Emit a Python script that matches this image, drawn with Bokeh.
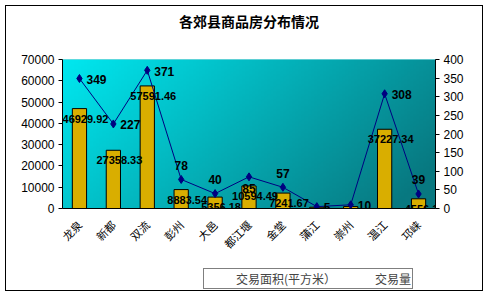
import numpy as np
from bokeh.plotting import figure
from bokeh.layouts import column
from bokeh.models import (Range1d, LinearAxis, FixedTicker, Legend, LegendItem,
                          ColumnDataSource, FactorRange, Title)
from bokeh.core.properties import value
from bokeh.embed import file_html
from bokeh.resources import INLINE

categories = ["龙泉", "新都", "双流", "彭州", "大邑", "都江堰", "金堂", "蒲江", "崇州", "温江", "邛崃"]
area = [46929.92, 27358.33, 57591.46, 8883.54, 5356.18, 10594.49, 7241.67, 588.67, 906.98, 37227.34, 4556.12]
count = [349, 227, 371, 78, 40, 85, 57, 5, 10, 308, 39]
left_ticks = [0, 10000, 20000, 30000, 40000, 50000, 60000, 70000]
right_ticks = [0, 50, 100, 150, 200, 250, 300, 350, 400]

title_text = "各郊县商品房分布情况"
bar_label = "交易面积(平方米）"
line_label = "交易量"

# placement of the count labels (style only)
count_label_side = ["right", "right", "right", "above", "above", "below",
                    "above", "right", "right", "right", "above"]

CJK = "Noto Sans CJK SC"
LAT = "Liberation Sans"
BAR_FILL = "#d9ae00"
LINE_COL = "#000080"

def side_offsets(side):
    if side == "right":
        return 7, 1, "left"
    if side == "above":
        return 0, -14, "center"
    return 0, 12, "center"

offs = [side_offsets(s) for s in count_label_side]

src = ColumnDataSource(dict(
    cat=categories, area=area, count=count,
    area_txt=["%.2f" % v for v in area],
    count_txt=[str(v) for v in count],
    cx=[o[0] for o in offs], cy=[o[1] for o in offs], ca=[o[2] for o in offs],
))

p = figure(width=476, height=262, x_range=FactorRange(*categories),
           y_range=Range1d(left_ticks[0], left_ticks[-1]),
           output_backend="svg", toolbar_location=None, title=None,
           min_border_left=56, min_border_right=47, min_border_top=53, min_border_bottom=60)
p.extra_y_ranges = {"right": Range1d(right_ticks[0], right_ticks[-1])}

# spacer between frame and title, then the title itself
p.add_layout(Title(text=" ", text_font_size="9px", standoff=15), "above")
p.add_layout(Title(text=title_text, text_font=CJK, text_font_size="14px",
                   align="center", text_font_style="bold", text_color="black",
                   standoff=4), "above")

p.outline_line_color = None
p.grid.grid_line_color = None
p.background_fill_color = "#00b0b8"
p.border_fill_color = "white"

# gradient background of plot area (style only)
H, W = 60, 120
xs = np.linspace(0, 1, W)[None, :]
ys = np.linspace(0, 1, H)[:, None]   # 0 bottom, 1 top
t = np.clip(0.78 * xs + 0.30 * (1 - ys), 0, 1)
c0 = np.array([0, 232, 240]); c1 = np.array([8, 120, 128])
rgb = c0[None, None, :] * (1 - t[..., None]) + c1[None, None, :] * t[..., None]
img = np.zeros((H, W), dtype=np.uint32)
view = img.view(dtype=np.uint8).reshape((H, W, 4))
view[..., 0] = rgb[..., 0].astype(np.uint8)
view[..., 1] = rgb[..., 1].astype(np.uint8)
view[..., 2] = rgb[..., 2].astype(np.uint8)
view[..., 3] = 255
p.image_rgba(image=[img], x=0, y=left_ticks[0], dw=len(categories), dh=left_ticks[-1] - left_ticks[0])

p.vbar(x="cat", top="area", width=0.42, source=src,
       fill_color=BAR_FILL, line_color="black", line_width=1)
p.line(x="cat", y="count", source=src, y_range_name="right",
       line_color=LINE_COL, line_width=1)
p.scatter(x="cat", y="count", source=src, y_range_name="right",
          marker="diamond", size=8, fill_color=LINE_COL, line_color=LINE_COL)

p.text(x="cat", y="area", text="area_txt", source=src, text_align="center",
       text_baseline="middle", x_offset=6, y_offset=10, text_font=value(LAT),
       text_font_size="11px", text_font_style="bold", text_color="black")
p.text(x="cat", y="count", text="count_txt", source=src, y_range_name="right",
       text_align="ca", text_baseline="middle", x_offset="cx", y_offset="cy",
       text_font=value(LAT), text_font_size="12px", text_font_style="bold",
       text_color="black")

# axes
ax = p.yaxis[0]
ax.ticker = FixedTicker(ticks=left_ticks)
ra = LinearAxis(y_range_name="right", ticker=FixedTicker(ticks=right_ticks))
p.add_layout(ra, "right")
for a in [ax, ra]:
    a.major_label_text_font = LAT
    a.major_label_text_font_size = "12px"
    a.major_label_text_color = "black"
    a.axis_line_color = "black"
    a.major_tick_line_color = "black"
    a.major_tick_out = 4
    a.major_tick_in = 0
    a.minor_tick_line_color = None
    a.major_label_standoff = 4

xa = p.xaxis[0]
xa.major_label_orientation = np.pi / 4
xa.major_label_text_font = CJK
xa.major_label_text_font_size = "11px"
xa.major_label_text_color = "black"
xa.major_tick_line_color = None
xa.axis_line_color = "black"
xa.major_label_standoff = 8

# legend strip below the chart (its own small canvas)
lg = figure(width=476, height=22, output_backend="svg", toolbar_location=None,
            x_range=Range1d(0, 1), y_range=Range1d(0, 1),
            x_axis_type=None, y_axis_type=None, min_border=0)
lg.outline_line_color = None
lg.grid.grid_line_color = None
lg.background_fill_color = "white"
lg.border_fill_color = "white"
empty = ColumnDataSource(dict(x=[], y=[]))
r_bar = lg.vbar(x="x", top="y", width=0.1, source=empty,
                fill_color=BAR_FILL, line_color="black")
r_line = lg.line(x="x", y="y", source=empty, line_color=LINE_COL, line_width=1)
r_pt = lg.scatter(x="x", y="y", source=empty, marker="diamond", size=8,
                  fill_color=LINE_COL, line_color=LINE_COL)

legend = Legend(items=[LegendItem(label=bar_label, renderers=[r_bar]),
                       LegendItem(label=line_label, renderers=[r_line, r_pt])],
                orientation="horizontal", location=(141, 1),
                label_text_font=CJK, label_text_font_size="12px",
                border_line_color="black", border_line_width=1,
                glyph_width=28, glyph_height=8, label_standoff=3, spacing=8,
                padding=1, margin=0, background_fill_alpha=1)
lg.add_layout(legend)

layout = column(p, lg, spacing=0,
                styles={"border": "1px solid black", "margin": "5px 0 0 5px",
                        "background-color": "white"})

open("out.html", "w").write(file_html(layout, INLINE))
